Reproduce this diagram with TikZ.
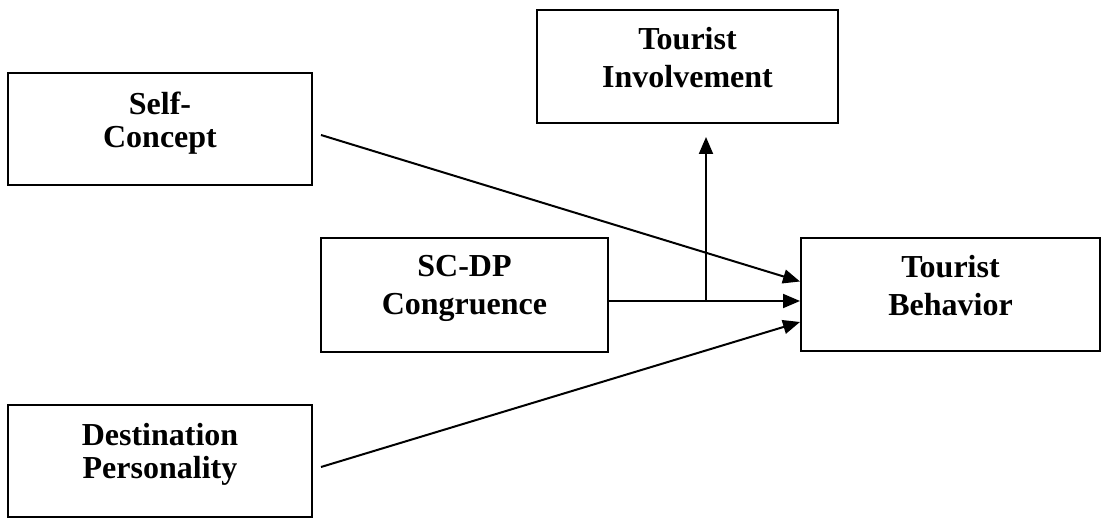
\documentclass[tikz,border=0pt]{standalone}
\usepackage{fontspec}
\setmainfont{Liberation Serif}
\usetikzlibrary{arrows.meta,calc}

\begin{document}
\begin{tikzpicture}[x=1pt,y=-1pt,
  box/.style={draw=black,line width=2pt,rectangle,inner sep=0pt},
  lbl/.style={anchor=north,align=center,inner sep=0pt,font=\bfseries\fontsize{32}{38}\selectfont},
  lbltight/.style={lbl,font=\bfseries\fontsize{32}{33}\selectfont},
  conn/.style={line width=2pt,-{Triangle[length=17pt,width=14pt]}}]
\useasboundingbox (0,0) rectangle (1101,518);

% boxes
\node[box,minimum width=304pt,minimum height=112pt] (sc) at (160,129) {};
\node[box,minimum width=301pt,minimum height=113pt] (ti) at (687.5,66.5) {};
\node[box,minimum width=287pt,minimum height=114pt] (cg) at (464.5,295) {};
\node[box,minimum width=299pt,minimum height=113pt] (tb) at (950.5,294.5) {};
\node[box,minimum width=304pt,minimum height=112pt] (dp) at (160,461) {};

% labels
\node[lbltight] (scl) at ($(sc.north)+(0,20)$) {Self-\\Concept};
\node[lbl] (til) at ($(ti.north)+(0,18)$) {Tourist\\Involvement};
\node[lbl] (cgl) at ($(cg.north)+(0,18)$) {SC-DP\\Congruence};
\node[lbl] (tbl) at ($(tb.north)+(0,18)$) {Tourist\\Behavior};
\node[lbltight] (dpl) at ($(dp.north)+(0,19)$) {Destination\\Personality};

% connectors
\coordinate (j) at ($(cg.east)+(97,6)$);
\draw[conn] ($(sc.east)+(8,6)$) -- ($(tb.west)+(0,-13)$);
\draw[conn] ($(cg.east)+(0,6)$) -- ($(tb.west)+(0,6.5)$);
\draw[conn] ($(dp.east)+(8,6)$) -- ($(tb.west)+(0,27.5)$);
\draw[conn] (j) -- ($(j |- ti.south)+(0,13)$);
\end{tikzpicture}
\end{document}
